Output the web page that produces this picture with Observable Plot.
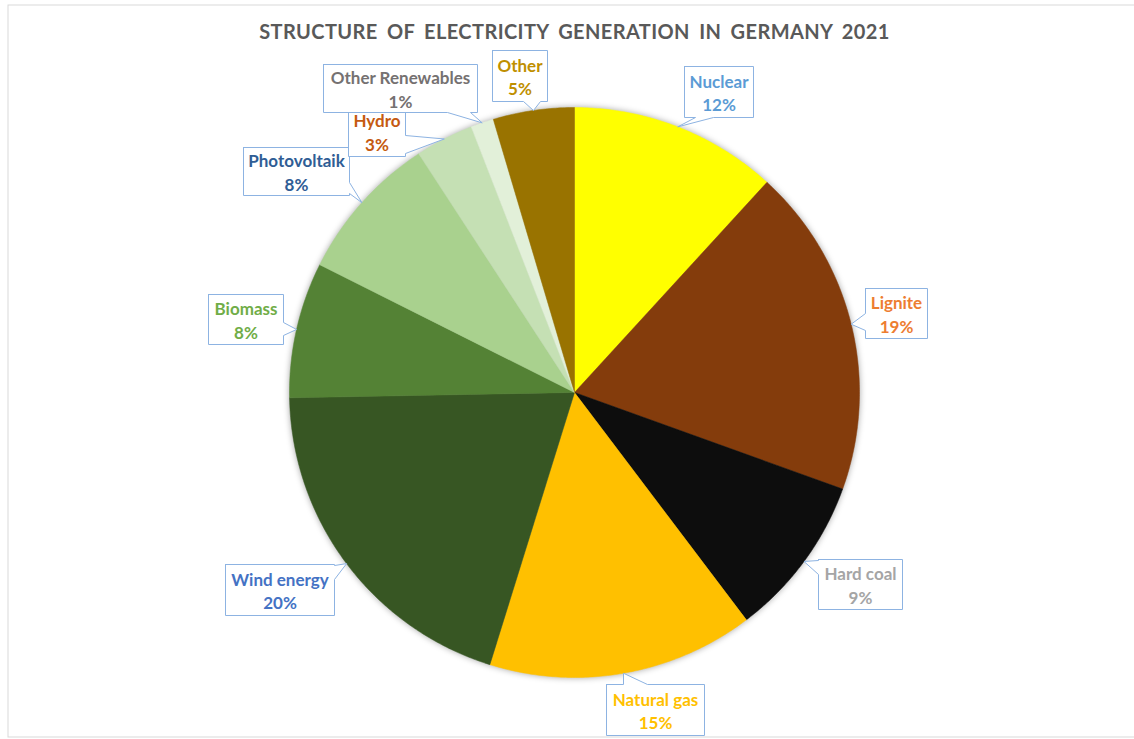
<!DOCTYPE html>
<html><head><meta charset="utf-8">
<script src="https://cdn.jsdelivr.net/npm/d3@7"></script>
<script src="https://cdn.jsdelivr.net/npm/@observablehq/plot@0.6"></script>
<style>body{margin:0;background:#fff} #chart svg{display:block;overflow:hidden}</style>
</head><body><div id="chart"></div>
<script>
// ---- data ----
const title = "STRUCTURE OF ELECTRICITY GENERATION IN GERMANY 2021";
const sources = ["Nuclear","Lignite","Hard coal","Natural gas","Wind energy","Biomass","Photovoltaik","Hydro","Other Renewables","Other"];
const shares = [11.8, 18.7, 9.2, 15.1, 19.9, 7.7, 8.4, 3.3, 1.3, 4.6];
// ---- styles ----
const sliceColors = ["#FFFF00","#843C0C","#0D0D0D","#FFC000","#375623","#548235","#A9D18E","#C5E0B4","#E2F0D9","#997300"];
const labelColors = ["#5B9BD5","#ED7D31","#A5A5A5","#FFC000","#4472C4","#70AD47","#2F5D95","#C55A11","#757171","#BF8F00"];
// ---- layout (pixels relative to pie centre) ----
const W = 1134, H = 739, CX = 574, CY = 392, R = 285;
const calloutBoxes = [
  [110,-326,179,-275], [291,-104,353,-54], [244,167,328,217], [32,292,130,343],
  [-349,172,-240,223], [-366,-98,-291,-48], [-331,-245,-225,-197], [-226,-286,-169,-236],
  [-251,-328,-97,-280], [-82,-342,-27,-291]
];
const calloutSides = ["bottom","left","left","top","right","right","right","right","bottom","bottom"];
const calloutBases = [[121,139],[-79,-62],[168,182],[49,73],[173,187],[-70,-57],[-210,-199],[-257,-239],[-127,-104],[-51,-34]];

const total = d3.sum(shares);
const rows = sources.map((name, i) => ({name, share: shares[i], color: sliceColors[i], labelColor: labelColors[i], i}));
const arcs = d3.pie().sort(null).value(d => d.share)(rows);

const toX = px => px / R, toY = py => -py / R;

// slice polygons
const slicePts = [];
for (const a of arcs) {
  const n = Math.max(2, Math.ceil((a.endAngle - a.startAngle) / (Math.PI / 360)));
  slicePts.push({name: a.data.name, color: a.data.color, x: 0, y: 0});
  for (let k = 0; k <= n; k++) {
    const t = a.startAngle + (a.endAngle - a.startAngle) * k / n;
    slicePts.push({name: a.data.name, color: a.data.color, x: Math.sin(t), y: Math.cos(t)});
  }
  slicePts.push({name: a.data.name, color: a.data.color, x: 0, y: 0});
}

// callouts
const calloutPts = [];
const labels = [];
arcs.forEach((a, i) => {
  const mid = (a.startAngle + a.endAngle) / 2;
  const tip = [R * Math.sin(mid), -R * Math.cos(mid)];
  const [x0, y0, x1, y1] = calloutBoxes[i];
  const side = calloutSides[i];
  const [b1, b2] = calloutBases[i];
  const p = [[x0, y0]];
  if (side === "top") p.push([b1, y0], tip, [b2, y0]);
  p.push([x1, y0]);
  if (side === "right") p.push([x1, b1], tip, [x1, b2]);
  p.push([x1, y1]);
  if (side === "bottom") p.push([b2, y1], tip, [b1, y1]);
  p.push([x0, y1]);
  if (side === "left") p.push([x0, b2], tip, [x0, b1]);
  p.push([x0, y0]);
  for (const [px, py] of p) calloutPts.push({name: a.data.name, x: toX(px), y: toY(py)});
  labels.push({
    text: `${a.data.name}\n${Math.round(a.data.share / total * 100)}%`,
    color: a.data.labelColor,
    x: toX((x0 + x1) / 2), y: toY((y0 + y1) / 2)
  });
});

const plot = Plot.plot({
  width: W, height: H,
  margin: 0,
  x: {domain: [-CX / R, (W - CX) / R], axis: null},
  y: {domain: [-(H - CY) / R, CY / R], axis: null},
  color: {type: "identity"},
  marks: [
    Plot.frame({stroke: "#D9D9D9", insetLeft: 7.5, insetTop: 4.5, insetBottom: 2.5, insetRight: -5}),
    Plot.line(slicePts, {x: "x", y: "y", z: "name", fill: "color", stroke: "color", strokeWidth: 0.5, curve: "linear", ariaDescription: "pie-slices"}),
    Plot.line(calloutPts, {x: "x", y: "y", z: "name", fill: "white", stroke: "#8DB3E2", strokeWidth: 1, strokeLinejoin: "miter", ariaDescription: "callouts"}),
    Plot.text(labels, {x: "x", y: "y", text: "text", fill: "color", fontFamily: "Lato", fontWeight: "bold", fontSize: 17, lineHeight: 1.38}),
    Plot.text([title], {text: d => d, frameAnchor: "top", lineAnchor: "middle", dx: CX - W / 2, dy: 32, fill: "#595959", fontFamily: "Lato", fontWeight: "bold", fontSize: 20, ariaDescription: "chart-title"})
  ]
});
d3.select(plot).select('g[aria-description="pie-slices"]').style("filter", "drop-shadow(0px 0px 3px rgba(0,0,0,0.35))");
d3.select(plot).select('g[aria-description="chart-title"] text').style("letter-spacing", "0.4px").style("word-spacing", "4px");
document.getElementById("chart").appendChild(plot);
</script>
</body></html>
